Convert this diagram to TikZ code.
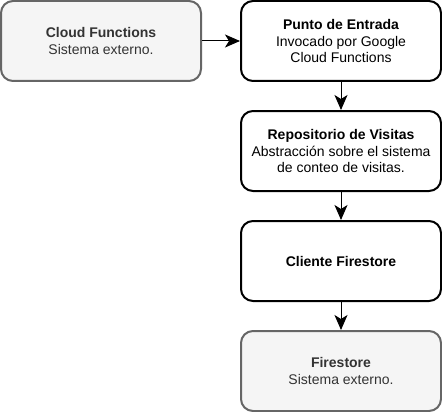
\documentclass[tikz,border=0pt]{standalone}
\usepackage{fontspec}
\setmainfont{Liberation Sans}
\usetikzlibrary{arrows.meta}
\definecolor{extfill}{HTML}{F5F5F5}
\definecolor{extline}{HTML}{666666}
\definecolor{exttext}{HTML}{333333}
\begin{document}
\begin{tikzpicture}[
      x=1pt,y=-1pt,
      box/.style={draw,line width=2pt,rounded corners=12pt,fill=white,
        minimum width=200pt,minimum height=80pt,align=center,
        font=\fontsize{14}{16.8}\selectfont},
      ext/.style={box,draw=extline,fill=extfill,text=exttext},
      flow/.style={line width=1pt,-{Stealth[length=15pt,width=13pt,inset=4pt]}},
    ]
    \useasboundingbox (0,0) rectangle (442,412);
    \node[ext] (cloud) at (101,41) {\textbf{Cloud Functions}\\Sistema externo.};
    \node[box] (entrada) at (341,41) {\textbf{Punto de Entrada}\\Invocado por Google\\Cloud Functions};
    \node[box] (repo) at (341,151) {\textbf{Repositorio de Visitas}\\Abstracción sobre el sistema\\de conteo de visitas.};
    \node[box] (cliente) at (341,261) {\textbf{Cliente Firestore}};
    \node[ext] (firestore) at (341,371) {\textbf{Firestore}\\Sistema externo.};
    \draw[flow] (cloud) -- (entrada);
    \draw[flow] (entrada) -- (repo);
    \draw[flow] (repo) -- (cliente);
    \draw[flow] (cliente) -- (firestore);
  \end{tikzpicture}
\end{document}
